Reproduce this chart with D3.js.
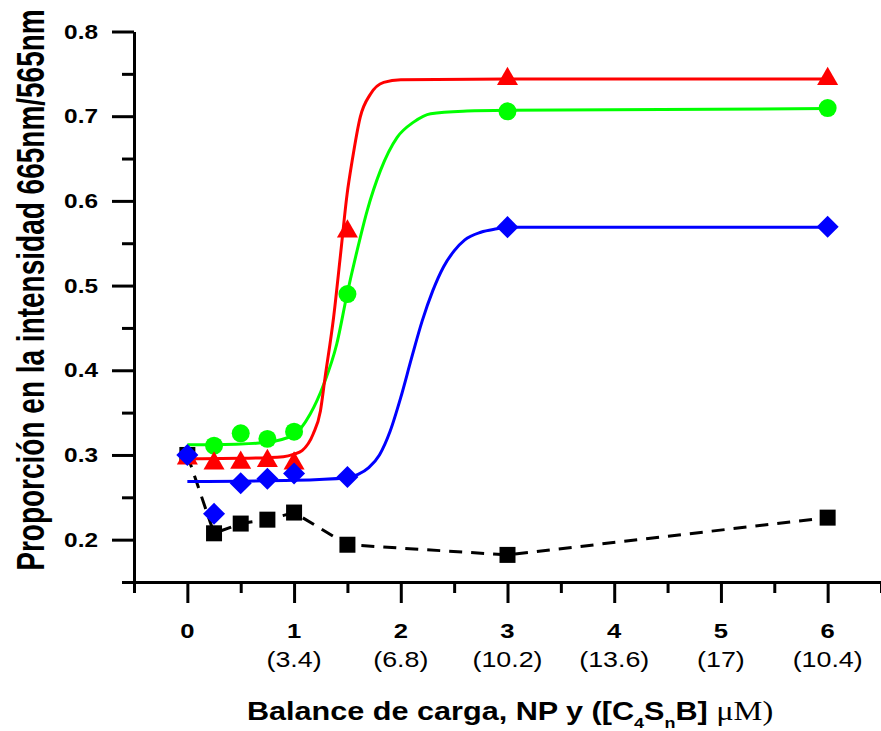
<!DOCTYPE html>
<html>
<head>
<meta charset="utf-8">
<script src="https://cdn.jsdelivr.net/npm/d3@7"></script>
<style>
  body { margin: 0; background: #fff; }
  text { font-family: "Liberation Sans", Arial, sans-serif; }
</style>
</head>
<body>
<svg id="chart" width="881" height="731"></svg>
<script>
// ticks
const xTicks = [0, 1, 2, 3, 4, 5, 6];
const xTickLabels = ["0", "1", "2", "3", "4", "5", "6"];
const concLabels = ["", "(3.4)", "(6.8)", "(10.2)", "(13.6)", "(17)", "(10.4)"];
const xMinorTicks = [-0.5, 0.5, 1.5, 2.5, 3.5, 4.5, 5.5, 6.5];
const yTicks = [0.2, 0.3, 0.4, 0.5, 0.6, 0.7, 0.8];
const yTickLabels = ["0.2", "0.3", "0.4", "0.5", "0.6", "0.7", "0.8"];
const yMinorTicks = [0.15, 0.25, 0.35, 0.45, 0.55, 0.65, 0.75];

// measured points
const ratioX = [0, 0.25, 0.5, 0.75, 1, 1.5, 3, 6];
const blackVals = [0.300, 0.2075, 0.219, 0.2236, 0.232, 0.194, 0.182, 0.226];
const redVals = [0.296, 0.290, 0.291, 0.293, 0.290, 0.564, 0.744, 0.744];
const blueVals = [0.300, 0.2305, 0.2665, 0.272, 0.278, 0.274, 0.569, 0.5695];
const greenX = [0.25, 0.5, 0.75, 1, 1.5, 3, 6];
const greenVals = [0.311, 0.3255, 0.319, 0.3275, 0.490, 0.7057, 0.7096];

// fitted curves
const redFitX = [0, 0.5, 0.9, 1.0, 1.075, 1.18, 1.247, 1.29, 1.37, 1.434, 1.497, 1.544, 1.62, 1.715, 1.84, 2.0, 3, 6];
const redFitY = [0.2955, 0.296, 0.298, 0.301, 0.305, 0.325, 0.352, 0.391, 0.462, 0.535, 0.608, 0.647, 0.699, 0.726, 0.740, 0.743, 0.744, 0.744];
const greenFitX = [0, 0.5, 0.75, 1.0, 1.15, 1.28, 1.40, 1.497, 1.59, 1.684, 1.81, 1.966, 2.12, 2.28, 2.62, 3, 6];
const greenFitY = [0.312, 0.313, 0.315, 0.324, 0.348, 0.384, 0.431, 0.490, 0.541, 0.588, 0.636, 0.675, 0.693, 0.703, 0.706, 0.707, 0.709];
const blueFitX = [0, 1.0, 1.5, 1.6, 1.7, 1.8, 1.9, 2.0, 2.1, 2.2, 2.3, 2.4, 2.5, 2.6, 2.75, 2.9, 3, 6];
const blueFitY = [0.2688, 0.270, 0.273, 0.277, 0.285, 0.300, 0.328, 0.368, 0.414, 0.458, 0.494, 0.522, 0.541, 0.554, 0.563, 0.567, 0.569, 0.569];

const SX = 1.22; // glyphs in the source are stretched sideways

const svg = d3.select("#chart");
const x = d3.scaleLinear().domain([-0.5, 6.5]).range([134, 881]);
const y = d3.scaleLinear().domain([0.15, 0.8]).range([582, 31.5]);

function styleAxis(g) {
    g.selectAll("line").attr("stroke", "#000").attr("stroke-width", 3);
    g.selectAll("path").attr("stroke", "#000").attr("stroke-width", 3);
    g.selectAll("text").remove();
}

// y axis
svg.append("g").attr("transform", "translate(134,0)")
    .call(d3.axisLeft(y).tickValues(yMinorTicks).tickSize(12).tickSizeOuter(0).tickFormat(""))
    .call(styleAxis);
svg.append("g").attr("transform", "translate(134,0)")
    .call(d3.axisLeft(y).tickValues(yTicks).tickSize(22).tickSizeOuter(0).tickFormat(""))
    .call(styleAxis);
// x axis
svg.append("g").attr("transform", "translate(0,582)")
    .call(d3.axisBottom(x).tickValues(xMinorTicks).tickSize(11).tickSizeOuter(0).tickFormat(""))
    .call(styleAxis);
svg.append("g").attr("transform", "translate(0,582)")
    .call(d3.axisBottom(x).tickValues(xTicks).tickSize(21).tickSizeOuter(0).tickFormat(""))
    .call(styleAxis);

function label(px, py, str, size, weight, anchor) {
    return svg.append("text")
        .attr("transform", `translate(${px},${py}) scale(${SX},1)`)
        .attr("text-anchor", anchor)
        .attr("font-size", size)
        .attr("font-weight", weight)
        .text(str);
}

yTicks.forEach((v, i) => label(98, y(v) + 7, yTickLabels[i], 20, "bold", "end"));
xTicks.forEach((v, i) => {
    label(x(v), 638, xTickLabels[i], 21, "bold", "middle");
    if (concLabels[i]) label(x(v), 667, concLabels[i], 22, "normal", "middle");
});

// axis titles
const xt = svg.append("text")
    .attr("transform", `translate(247,720) scale(1.2,1)`)
    .attr("font-size", 25.5)
    .attr("font-weight", "bold");
xt.append("tspan").text("Balance de carga, NP y ([C");
xt.append("tspan").attr("font-size", 15).attr("dy", 8).text("4");
xt.append("tspan").attr("dy", -8).text("S");
xt.append("tspan").attr("font-size", 15).attr("dy", 8).text("n");
xt.append("tspan").attr("dy", -8).text("B] ");
xt.append("tspan").attr("font-family", "'Liberation Serif', 'Times New Roman', serif")
    .attr("font-weight", "normal").attr("font-size", 27).text("\u03bcM)");

svg.append("text")
    .attr("transform", `translate(44,290) scale(1.4,1) rotate(-90)`)
    .attr("text-anchor", "middle")
    .attr("font-size", 28)
    .attr("font-weight", "bold")
    .text("Proporción en la intensidad 665nm/565nm");

// series
const fitLine = d3.line().x(d => x(d[0])).y(d => y(d[1])).curve(d3.curveMonotoneX);
const dataLine = d3.line().x(d => x(d[0])).y(d => y(d[1]));

function drawMarkers(xs, vals, type, size, color, rot) {
    svg.append("g").selectAll("path")
        .data(d3.zip(xs, vals))
        .join("path")
        .attr("transform", d => `translate(${x(d[0])},${y(d[1])}) rotate(${rot})`)
        .attr("d", d3.symbol().type(type).size(size))
        .attr("fill", color);
}

// black dashed
svg.append("path")
    .attr("d", dataLine(d3.zip(ratioX, blackVals)))
    .attr("fill", "none").attr("stroke", "#000").attr("stroke-width", 3)
    .attr("stroke-dasharray", "13,9");
drawMarkers(ratioX, blackVals, d3.symbolSquare, 256, "#000", 0);

// green
svg.append("path")
    .attr("d", fitLine(d3.zip(greenFitX, greenFitY)))
    .attr("fill", "none").attr("stroke", "#00ff00").attr("stroke-width", 3);
drawMarkers(greenX, greenVals, d3.symbolCircle, 254, "#00ff00", 0);

// red
svg.append("path")
    .attr("d", fitLine(d3.zip(redFitX, redFitY)))
    .attr("fill", "none").attr("stroke", "#ff0000").attr("stroke-width", 3);
drawMarkers(ratioX, redVals, d3.symbolTriangle, 191, "#ff0000", 0);

// blue
svg.append("path")
    .attr("d", fitLine(d3.zip(blueFitX, blueFitY)))
    .attr("fill", "none").attr("stroke", "#0000ff").attr("stroke-width", 3);
drawMarkers(ratioX, blueVals, d3.symbolSquare, 243, "#0000ff", 45);
</script>
</body>
</html>
